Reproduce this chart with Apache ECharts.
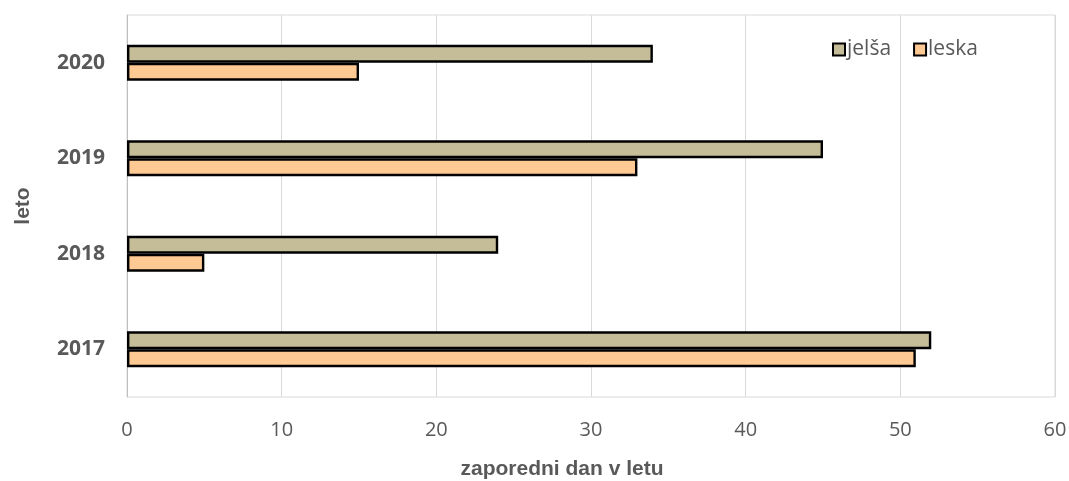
<!DOCTYPE html>
<html>
<head>
<meta charset="utf-8">
<script src="https://cdn.jsdelivr.net/npm/echarts@6/dist/echarts.min.js"></script>
<style>
html, body { margin: 0; padding: 0; background: #fff; }
#chart { width: 1069px; height: 481px; }
</style>
</head>
<body>
<div id="chart"></div>
<script>
// Years on the category axis (bottom to top)
const years = ['2017', '2018', '2019', '2020'];
// Day of year when pollen season started
const jelsa = [52, 24, 45, 34];
const leska = [51, 5, 33, 15];
// Value axis ticks
const xTicks = [0, 10, 20, 30, 40, 50, 60];

const chart = echarts.init(document.getElementById('chart'));
const barBorder = { borderColor: '#000', borderWidth: 2.4 };

chart.setOption({
  animation: false,
  backgroundColor: '#fff',
  grid: {
    left: 127, right: 14, top: 15, bottom: 84,
    outerBoundsMode: 'none',
    show: true, borderColor: '#d9d9d9', borderWidth: 1
  },
  legend: {
    data: ['jelša', 'leska'],
    icon: 'rect',
    left: 832, top: 39, padding: 0,
    itemWidth: 12, itemHeight: 12, itemGap: 22,
    textStyle: { fontFamily: 'Open Sans', fontSize: 21, color: '#595959', padding: [0, 0, 0, -3] }
  },
  xAxis: {
    type: 'value', min: xTicks[0], max: xTicks[xTicks.length - 1], interval: 10,
    axisLine: { show: false }, axisTick: { show: false },
    splitLine: { lineStyle: { color: '#d9d9d9', width: 1 } },
    axisLabel: { fontFamily: 'Open Sans', fontSize: 20, color: '#595959', margin: 23 },
    name: 'zaporedni dan v letu', nameLocation: 'middle', nameGap: 62,
    nameTextStyle: { fontFamily: 'Liberation Sans', fontWeight: 'bold', fontSize: 21, color: '#595959', padding: [0, 58, 0, 0] }
  },
  yAxis: {
    type: 'category', data: years,
    axisLine: { show: true, lineStyle: { color: '#bfbfbf', width: 1 } },
    axisTick: { show: false },
    axisLabel: { fontFamily: 'Open Sans', fontWeight: 'bold', fontSize: 21, color: '#595959', margin: 22 },
    name: 'leto', nameLocation: 'middle', nameGap: 93, nameRotate: 90,
    nameTextStyle: { fontFamily: 'Liberation Sans', fontWeight: 'bold', fontSize: 21, color: '#595959' }
  },
  series: [
    { name: 'jelša', type: 'bar', data: jelsa, barWidth: 18, barGap: '0%',
      itemStyle: Object.assign({ color: '#c4bd97' }, barBorder) },
    { name: 'leska', type: 'bar', data: leska, barWidth: 18, barGap: '0%',
      itemStyle: Object.assign({ color: '#ffc993' }, barBorder) }
  ]
});
</script>
</body>
</html>
